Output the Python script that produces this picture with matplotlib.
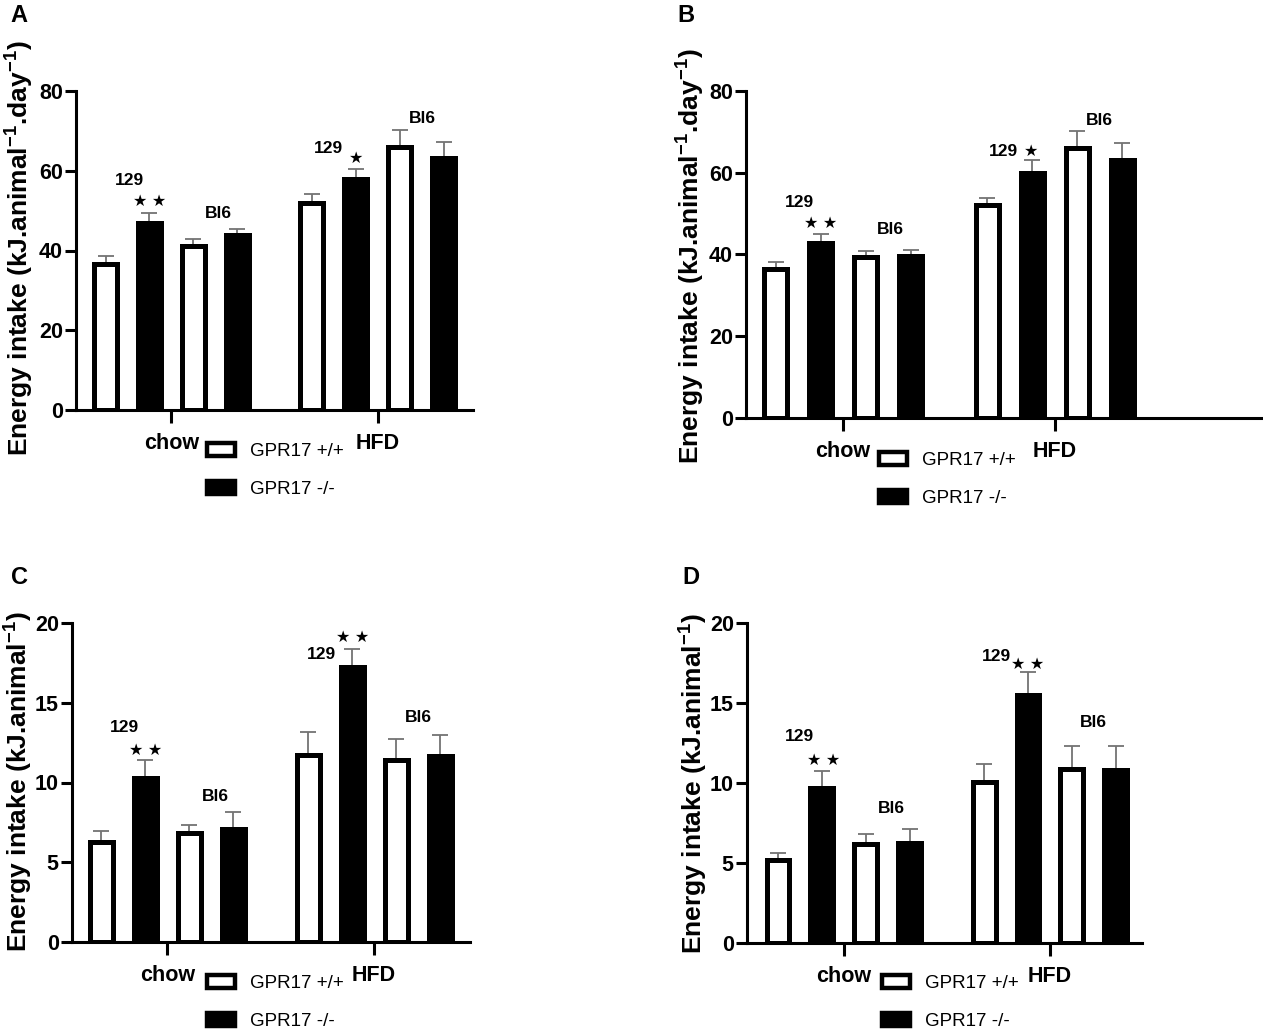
import matplotlib as mpl
mpl.use('Agg')
import matplotlib.pyplot as plt
from matplotlib.patches import Patch

plt.rcParams['font.family'] = ['Liberation Sans', 'DejaVu Sans']
plt.rcParams['mathtext.fontset'] = 'custom'
plt.rcParams['mathtext.bf'] = 'Liberation Sans:bold'
plt.rcParams['mathtext.rm'] = 'Liberation Sans'

# ---- data ----
groups = ['chow', 'HFD']
legend_labels = ['GPR17 +/+', 'GPR17 -/-']
# bar order: chow 129 +/+, chow 129 -/-, chow Bl6 +/+, chow Bl6 -/-, then same for HFD
a_mean = [36.7, 47.0, 41.1, 43.9, 51.8, 57.9, 66.0, 63.2]
a_sem = [2.0, 2.5, 1.7, 1.6, 2.3, 2.6, 4.1, 3.9]
b_mean = [36.4, 42.9, 39.4, 39.7, 52.0, 59.9, 66.0, 63.1]
b_sem = [1.7, 2.0, 1.5, 1.5, 1.8, 3.3, 4.1, 4.2]
c_mean = [6.26, 10.29, 6.84, 7.11, 11.71, 17.23, 11.38, 11.69]
c_sem = [0.70, 1.14, 0.52, 1.04, 1.44, 1.16, 1.37, 1.29]
d_mean = [5.16, 9.67, 6.17, 6.23, 10.05, 15.48, 10.86, 10.82]
d_sem = [0.48, 1.08, 0.62, 0.87, 1.12, 1.45, 1.44, 1.52]

label_day = 'Energy intake (kJ.animal$^{\\mathbf{-1}}$.day$^{\\mathbf{-1}}$)'
label_tot = 'Energy intake (kJ.animal$^{\\mathbf{-1}}$)'

W, H = 1263, 1029
fig = plt.figure(figsize=(W / 100, H / 100), dpi=100)

xpos = [0, 1, 2, 3, 4.7, 5.7, 6.7, 7.7]
fills = ['white', 'black'] * 4


def frac(x, y):
    return x / W, 1 - y / H


panels = [
    dict(letter='A', mean=a_mean, sem=a_sem, ylim=80, step=20, ylabel=label_day,
         box=(76, 473, 91, 410), xlim=(-0.672, 8.37), lab=(19, 248), let=(19, 15),
         leg=(207, 443),
         notes=[(0.54, 57.6, '129'), (1.01, 52.2, '★ ★'), (2.56, 49.4, 'Bl6'),
                (5.07, 65.5, '129'), (5.71, 63.2, '★'), (7.21, 73.0, 'Bl6')]),
    dict(letter='B', mean=b_mean, sem=b_sem, ylim=80, step=20, ylabel=label_day,
         box=(746, 1263, 91, 418), xlim=(-0.655, 10.82), lab=(690, 256), let=(686, 15),
         leg=(879, 452),
         notes=[(0.54, 52.8, '129'), (1.01, 47.7, '★ ★'), (2.54, 46.2, 'Bl6'),
                (5.05, 65.3, '129'), (5.67, 65.3, '★'), (7.18, 72.9, 'Bl6')]),
    dict(letter='C', mean=c_mean, sem=c_sem, ylim=20, step=5, ylabel=label_tot,
         box=(72, 470, 623, 942), xlim=(-0.67, 8.38), lab=(18, 782), let=(20, 578),
         leg=(207, 975),
         notes=[(0.53, 13.46, '129'), (1.0, 12.04, '★ ★'), (2.58, 9.1, 'Bl6'),
                (5.01, 18.0, '129'), (5.71, 19.1, '★ ★'), (7.21, 14.1, 'Bl6')]),
    dict(letter='D', mean=d_mean, sem=d_sem, ylim=20, step=5, ylabel=label_tot,
         box=(747, 1142, 623, 943), xlim=(-0.707, 8.3), lab=(693, 784), let=(691, 578),
         leg=(882, 975),
         notes=[(0.5, 12.9, '129'), (1.03, 11.4, '★ ★'), (2.58, 8.4, 'Bl6'),
                (4.99, 17.9, '129'), (5.7, 17.4, '★ ★'), (7.19, 13.8, 'Bl6')]),
]

for p in panels:
    x0, x1, yt, yb = p['box']
    ax = fig.add_axes([x0 / W, 1 - yb / H, (x1 - x0) / W, (yb - yt) / H])
    ax.errorbar(xpos, p['mean'], yerr=[[0] * 8, p['sem']], fmt='none',
                ecolor='#737373', elinewidth=1.3, capsize=5.5, capthick=1.3, zorder=1)
    ax.bar(xpos, p['mean'], width=0.52, color=fills, edgecolor='black',
           linewidth=3.6, zorder=2)
    ax.set_xlim(*p['xlim'])
    ax.set_ylim(0, p['ylim'])
    ax.set_yticks(range(0, p['ylim'] + 1, p['step']))
    ax.set_xticks([1.5, 6.2])
    ax.set_xticklabels(groups)
    for s in ['top', 'right']:
        ax.spines[s].set_visible(False)
    for s in ['left', 'bottom']:
        ax.spines[s].set_linewidth(2.2)
    ax.tick_params(axis='y', length=8, width=2.2, pad=1.5, labelsize=15.5)
    ax.tick_params(axis='x', length=9.5, width=2.2, pad=7, labelsize=15.5)
    for t in ax.get_xticklabels() + ax.get_yticklabels():
        t.set_fontweight('bold')
    for nx, ny, txt in p['notes']:
        ax.text(nx, ny, txt, ha='center', va='center', fontsize=12.5 if '★' not in txt else 11.5,
                fontweight='bold', family=['Liberation Sans', 'DejaVu Sans'])
    fig.text(*frac(*p['lab']), p['ylabel'], rotation=90, ha='center', va='center',
             fontsize=19, fontweight='bold')
    fig.text(*frac(*p['let']), p['letter'], ha='center', va='center',
             fontsize=17, fontweight='bold')
    handles = [Patch(facecolor=c, edgecolor='black', linewidth=3.2) for c in ['white', 'black']]
    fig.legend(handles, legend_labels, loc='upper left', bbox_to_anchor=frac(*p['leg']),
               frameon=False, fontsize=13.5, borderpad=0, borderaxespad=0,
               handlelength=1.5, handleheight=0.7, handletextpad=0.8, labelspacing=1.1)

fig.savefig('out.png', dpi=100)
